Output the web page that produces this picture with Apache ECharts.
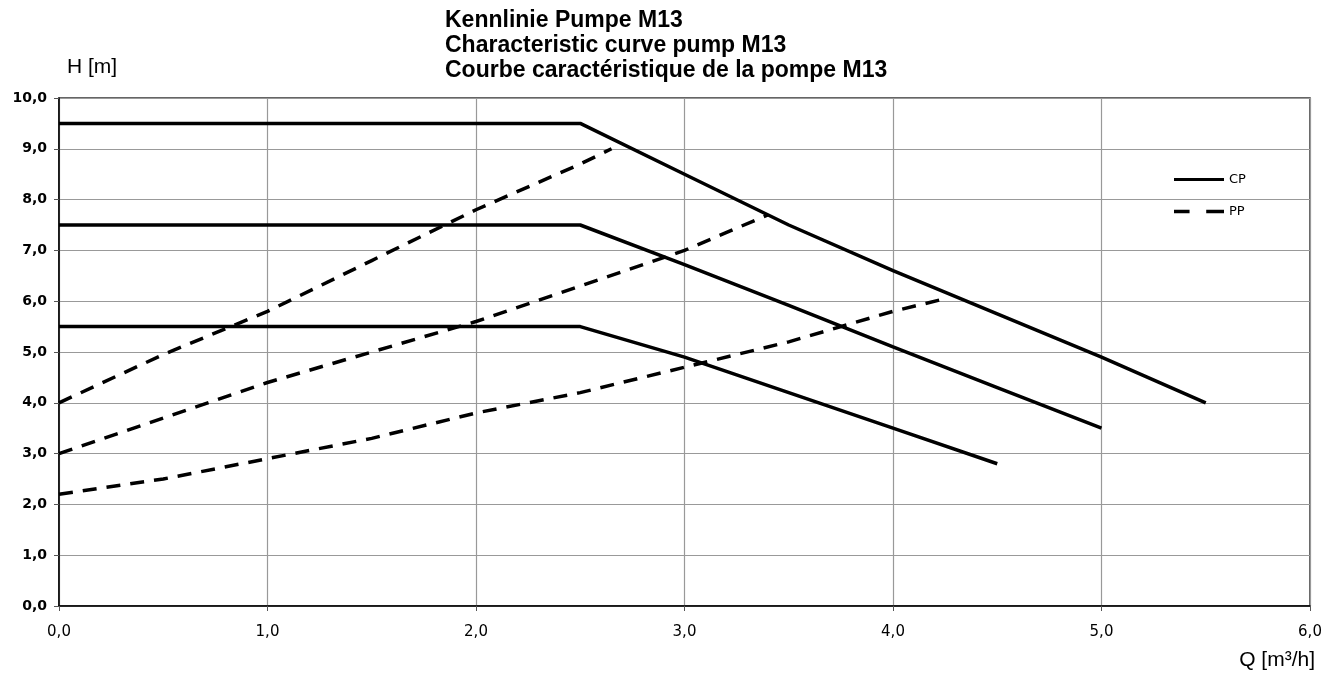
<!DOCTYPE html>
<html>
<head>
<meta charset="utf-8">
<script src="https://cdn.jsdelivr.net/npm/echarts@6/dist/echarts.min.js"></script>
<style>
  html, body { margin: 0; padding: 0; background: #fff; }
  #chart { width: 1334px; height: 675px; }
</style>
</head>
<body>
<div id="chart"></div>
<script>
// Kennlinien (CP = constant pressure, PP = proportional pressure)
var cpHigh = [[0, 9.5], [2.5, 9.5], [3.0, 8.5], [3.5, 7.5], [4.0, 6.6], [4.5, 5.75], [5.0, 4.9], [5.5, 4.0]];
var cpMid  = [[0, 7.5], [2.5, 7.5], [3.0, 6.72], [3.5, 5.92], [4.0, 5.1], [4.5, 4.3], [5.0, 3.5]];
var cpLow  = [[0, 5.5], [2.5, 5.5], [3.0, 4.9], [3.5, 4.2], [4.0, 3.5], [4.5, 2.8]];
var ppHigh = [[0, 4.0], [0.5, 4.95], [1.0, 5.8], [1.5, 6.8], [2.0, 7.8], [2.5, 8.7], [2.65, 9.0]];
var ppMid  = [[0, 3.0], [0.5, 3.7], [1.0, 4.4], [1.5, 5.0], [2.0, 5.6], [2.5, 6.3], [3.0, 7.0], [3.4, 7.7]];
var ppLow  = [[0, 2.2], [0.5, 2.5], [1.0, 2.9], [1.5, 3.3], [2.0, 3.8], [2.5, 4.2], [3.0, 4.7], [3.5, 5.2], [4.0, 5.8], [4.25, 6.05]];

var titleLines = ['Kennlinie Pumpe M13', 'Characteristic curve pump M13', 'Courbe caractéristique de la pompe M13'];

var myChart = echarts.init(document.getElementById('chart'));

function mkLine(name, data, dashed) {
  return {
    name: name,
    type: 'line',
    data: data,
    showSymbol: false,
    animation: false,
    lineStyle: {
      color: '#000',
      width: 3.5,
      type: dashed ? [14, 10] : 'solid'
    },
    itemStyle: { color: '#000' }
  };
}

function fmt(v) {
  return v.toFixed(1).replace('.', ',');
}

myChart.setOption({
  backgroundColor: '#fff',
  title: {
    text: titleLines.join('\n'),
    left: 440,
    top: 3,
    textStyle: {
      fontFamily: 'Liberation Sans',
      fontWeight: 'bold',
      fontSize: 23,
      lineHeight: 25,
      color: '#000'
    }
  },
  graphic: [
    {
      type: 'text', left: 67, top: 57,
      style: { text: 'H [m]', font: '21px "Liberation Sans"', fill: '#000' }
    },
    {
      type: 'text', right: 19, top: 650,
      style: { text: 'Q [m³/h]', font: '21px "Liberation Sans"', fill: '#000' }
    }
  ],
  legend: {
    orient: 'vertical',
    left: 1169,
    top: 168,
    itemWidth: 50,
    itemHeight: 14,
    itemGap: 19,
    icon: 'path://M0,5 L50,5 L50,8 L0,8 Z',
    textStyle: { fontFamily: 'DejaVu Sans', fontSize: 13, color: '#000' },
    data: [
      { name: 'CP', itemStyle: { color: '#000' } },
      { name: 'PP', icon: 'path://M0,5 L14,5 L14,8 L0,8 Z M29,5 L45,5 L45,8 L29,8 Z', itemStyle: { color: '#000' } }
    ]
  },
  grid: {
    left: 59, right: 24, top: 98, bottom: 69,
    show: true,
    borderColor: '#333',
    borderWidth: 1.5
  },
  xAxis: {
    type: 'value',
    min: 0, max: 6, interval: 1,
    axisLine: { onZero: false, lineStyle: { color: '#000', width: 1.5 } },
    axisTick: { show: true, length: 5, lineStyle: { color: '#555' } },
    splitLine: { show: true, lineStyle: { color: '#999', width: 1.2 } },
    axisLabel: {
      formatter: fmt,
      margin: 19,
      fontFamily: 'DejaVu Sans',
      fontSize: 15,
      color: '#000'
    }
  },
  yAxis: {
    type: 'value',
    min: 0, max: 10, interval: 1,
    axisLine: { show: true, lineStyle: { color: '#000', width: 1.5 } },
    axisTick: { show: true, length: 5, lineStyle: { color: '#555' } },
    splitLine: { show: true, lineStyle: { color: '#999', width: 1.2 } },
    axisLabel: {
      formatter: fmt,
      margin: 12,
      fontFamily: 'DejaVu Sans',
      fontWeight: 'bold',
      fontSize: 14,
      color: '#000'
    }
  },
  series: [
    mkLine('CP', cpHigh, false),
    mkLine('CP', cpMid, false),
    mkLine('CP', cpLow, false),
    mkLine('PP', ppHigh, true),
    mkLine('PP', ppMid, true),
    mkLine('PP', ppLow, true)
  ]
});
window.addEventListener('resize', function () { myChart.resize(); });
</script>
</body>
</html>
